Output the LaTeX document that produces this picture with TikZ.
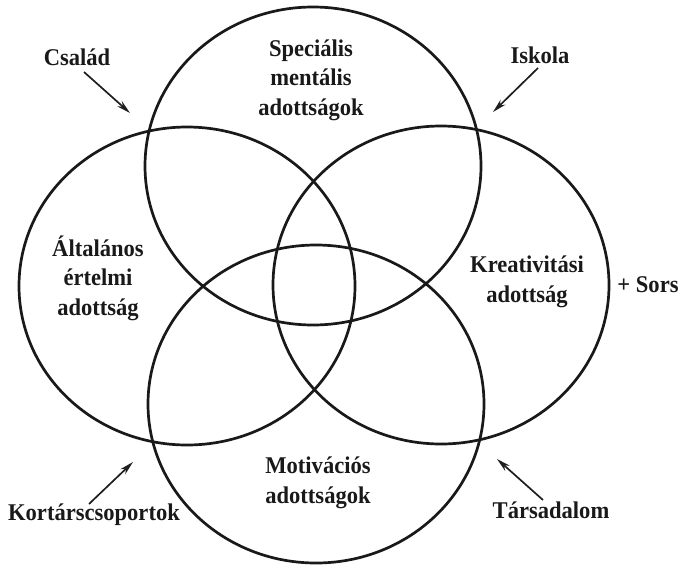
\documentclass[tikz,border=0pt]{standalone}
\usepackage{fontspec}
\setmainfont[FakeStretch=0.94]{Liberation Serif}
\usetikzlibrary{shapes.geometric,arrows.meta}
\begin{document}
\begin{tikzpicture}[x=1pt,y=-1pt,
  ring/.style={draw=black!90,line width=2.7pt,ellipse,minimum width=336pt,minimum height=318pt,inner sep=0pt},
  lbl/.style={font=\fontsize{24pt}{29.5pt}\selectfont\bfseries,text=black!90,align=center,inner sep=0pt,anchor=base},
  arr/.style={draw=black!88,line width=1.7pt,-{Stealth[length=14pt,width=7pt]}}]
\useasboundingbox (0,0) rectangle (679,565);
\node[ring] (top) at (313,166) {};
\node[ring] (left) at (187,286) {};
\node[ring] (right) at (441,285) {};
\node[ring] (bottom) at (316,404) {};
\node[lbl] (spec) at (311,115) {Speciális\\mentális\\adottságok};
\node[lbl] (alt) at (98,315) {Általános\\értelmi\\adottság};
\node[lbl] (krea) at (527,302) {Kreativitási\\adottság};
\node[lbl] (moti) at (318,503) {Motivációs\\adottságok};
\node[lbl] (sors) at (648,292) {+ Sors};
\node[lbl] (csal) at (77,65) {Család};
\node[lbl] (isk) at (540,63) {Iskola};
\node[lbl] (kort) at (94,520) {Kortárscsoportok};
\node[lbl] (tars) at (551,518) {Társadalom};
\coordinate (csA) at (84,72);  \coordinate (csB) at (130,113);
\coordinate (isA) at (538,68); \coordinate (isB) at (493,112);
\coordinate (koA) at (89,504); \coordinate (koB) at (133,462);
\coordinate (taA) at (543,500);\coordinate (taB) at (497,459);
\draw[arr] (csA) -- (csB);
\draw[arr] (isA) -- (isB);
\draw[arr] (koA) -- (koB);
\draw[arr] (taA) -- (taB);
\end{tikzpicture}
\end{document}
